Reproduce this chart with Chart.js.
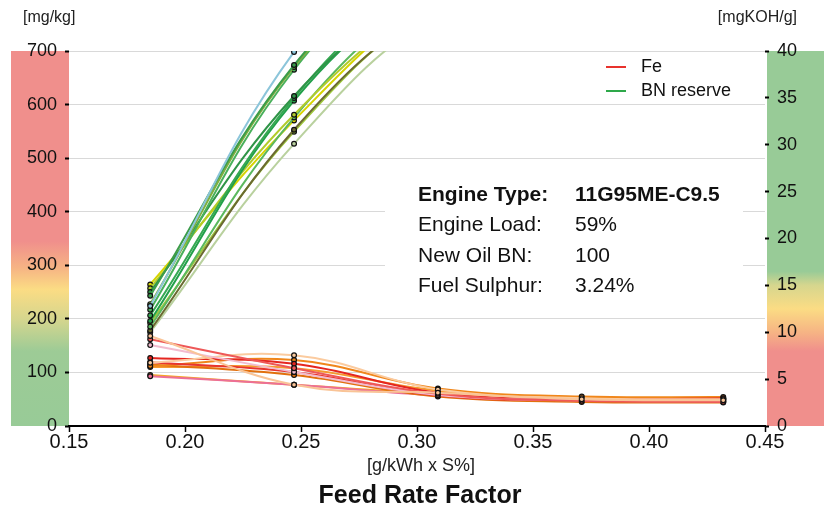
<!DOCTYPE html>
<html>
<head>
<meta charset="utf-8">
<script src="https://cdn.jsdelivr.net/npm/chart.js@4.4.1/dist/chart.umd.min.js"></script>
<style>
  html, body { margin: 0; padding: 0; background: #fff; }
  #wrap { width: 824px; height: 508px; }
</style>
</head>
<body>
<div id="wrap"><canvas id="chart" width="824" height="508"></canvas></div>
<script>
// feed rate factor [g/kWh x S%] of the five measurements
const feedRates = [0.185, 0.247, 0.309, 0.371, 0.432];

// Fe [mg/kg], one row per cylinder
const feColors = ["#f9c497", "#ee5858", "#f2bccf", "#fbcb9f", "#e52620", "#e8352f",
                  "#f0861a", "#e2700e", "#f59a30", "#ec6f97", "#f5a623"];
const feValues = [
  [168, 77, 62, 50, 48],
  [162, 108, 60, 47, 45],
  [151, 101, 58, 48, 46],
  [118, 132, 68, 52, 50],
  [127, 116, 62, 50, 50],
  [119, 101, 57, 49, 52],
  [112, 123, 70, 55, 54],
  [115, 95, 55, 45, 44],
  [110, 108, 66, 53, 52],
  [93, 77, 57, 46, 46],
  [95, 77, 60, 52, 50]
];

// BN reserve [mgKOH/g], one row per cylinder
const bnColors = ["#8cc5da", "#3b9c4a", "#7fae3e", "#49b05a", "#2f9447", "#35a852", "#22a04a",
                  "#b2cc2a", "#5bb85e", "#d6d400", "#6b6a30", "#9ec83c", "#b9d19e"];
const bnValues = [
  [12.8, 39.9, 55, 62, 65],
  [13.9, 38.5, 52, 60, 63],
  [13.0, 38.3, 51, 58, 62],
  [12.4, 38.0, 52, 59, 63],
  [14.3, 35.2, 48, 56, 60],
  [11.8, 35.0, 49, 57, 61],
  [11.2, 34.7, 48, 55, 59],
  [14.7, 33.2, 46, 53, 57],
  [10.6, 32.9, 47, 54, 58],
  [15.1, 32.6, 46, 52, 56],
  [10.2, 31.6, 45, 51, 55],
  [11.0, 31.4, 45, 50, 54],
  [10.0, 30.1, 44, 49, 52]
];

const legendNames = ["Fe", "BN reserve"];
const legendColors = ["#e8322d", "#2ea84a"];

const infoLabels = ["Engine Type:", "Engine Load:", "New Oil BN:", "Fuel Sulphur:"];
const infoValues = ["11G95ME-C9.5", "59%", "100", "3.24%"];

const FONT = "'Liberation Sans', Arial, Helvetica, sans-serif";

function toPoints(values) {
  return feedRates.map((x, i) => ({ x: x, y: values[i] }));
}

const datasets = [];
feValues.forEach((vals, i) => {
  datasets.push({
    label: "Fe",
    data: toPoints(vals),
    yAxisID: "y",
    borderColor: feColors[i],
    pointBackgroundColor: feColors[i],
    pointBorderColor: "#111"
  });
});
bnValues.forEach((vals, i) => {
  datasets.push({
    label: "BN reserve",
    data: toPoints(vals),
    yAxisID: "y1",
    borderColor: bnColors[i],
    pointBackgroundColor: bnColors[i],
    pointBorderColor: "#111"
  });
});

function vgrad(ctx, scale, stops) {
  const g = ctx.createLinearGradient(0, scale.getPixelForValue(scale.max), 0, scale.getPixelForValue(scale.min));
  const span = scale.max - scale.min;
  stops.forEach(s => g.addColorStop((scale.max - s[0]) / span, s[1]));
  return g;
}

const decor = {
  id: "decor",
  beforeDraw(chart) {
    const { ctx, chartArea: a, scales } = chart;
    ctx.save();
    ctx.fillStyle = "#fff";
    ctx.fillRect(0, 0, chart.width, chart.height);
    // Fe limit band (left) and BN limit band (right)
    ctx.fillStyle = vgrad(ctx, scales.y, [
      [700, "#f08f8c"], [345, "#f08f8c"], [295, "#f6b484"], [255, "#fbdc84"],
      [200, "#d6d68e"], [140, "#9dcb96"], [0, "#98cb97"]
    ]);
    ctx.fillRect(11, a.top, a.left - 11, a.bottom - a.top);
    ctx.fillStyle = vgrad(ctx, scales.y1, [
      [40, "#98cb97"], [16.5, "#98cb97"], [15, "#d6d68e"], [12.5, "#fbdc84"],
      [10, "#f6b484"], [8, "#f08f8c"], [0, "#f08f8c"]
    ]);
    ctx.fillRect(a.right + 2, a.top, chart.width - a.right - 2, a.bottom - a.top);
    ctx.restore();
  },
  beforeDatasetsDraw(chart) {
    const { ctx, chartArea: a } = chart;
    ctx.save();
    ctx.fillStyle = "#fff";
    ctx.fillRect(385, 165, a.right - 22 - 385, 140);
    ctx.restore();
  },
  afterDraw(chart) {
    const { ctx } = chart;
    ctx.save();
    ctx.fillStyle = "#222";
    ctx.textBaseline = "middle";
    ctx.font = "16px " + FONT;
    ctx.textAlign = "left";
    ctx.fillText("[mg/kg]", 23, 18);
    ctx.textAlign = "right";
    ctx.fillText("[mgKOH/g]", 797, 18);

    ctx.textAlign = "center";
    ctx.font = "18px " + FONT;
    ctx.fillText("[g/kWh x S%]", 421, 466);
    ctx.fillStyle = "#111";
    ctx.font = "bold 25px " + FONT;
    ctx.fillText("Feed Rate Factor", 420, 496);

    // legend
    ctx.textAlign = "left";
    ctx.font = "18px " + FONT;
    legendNames.forEach((name, i) => {
      const y = 67 + i * 24;
      ctx.strokeStyle = legendColors[i];
      ctx.lineWidth = 2;
      ctx.beginPath();
      ctx.moveTo(606, y);
      ctx.lineTo(626, y);
      ctx.stroke();
      ctx.fillStyle = "#111";
      ctx.fillText(name, 641, y);
    });

    // engine info
    infoLabels.forEach((label, i) => {
      const y = 195 + i * 30.5;
      ctx.font = (i === 0 ? "bold " : "") + "21px " + FONT;
      ctx.fillText(label, 418, y);
      ctx.fillText(infoValues[i], 575, y);
    });
    ctx.restore();
  }
};

new Chart(document.getElementById("chart"), {
  type: "line",
  data: { datasets: datasets },
  options: {
    responsive: false,
    animation: false,
    devicePixelRatio: 1,
    layout: { padding: { top: 51, left: 0, right: 0, bottom: 0 } },
    elements: {
      line: { borderWidth: 2, tension: 0.4, fill: false },
      point: { radius: 2.4, borderWidth: 1.2, hoverRadius: 3 }
    },
    plugins: {
      legend: { display: false },
      tooltip: { enabled: false }
    },
    scales: {
      x: {
        type: "linear",
        min: 0.15,
        max: 0.45,
        ticks: {
          stepSize: 0.05,
          padding: -2,
          color: "#111",
          font: { family: FONT, size: 20 },
          callback: v => v.toFixed(2)
        },
        grid: { drawOnChartArea: false, tickColor: "#000", tickLength: 6, tickWidth: 1.5 },
        border: { color: "#000", width: 2 },
        afterFit(scale) { scale.height = 82; }
      },
      y: {
        position: "left",
        min: 0,
        max: 700,
        ticks: { stepSize: 100, padding: 8, color: "#111", font: { family: FONT, size: 18 } },
        grid: { color: "#d9d9d9", lineWidth: 1, tickColor: "#000", tickLength: 4, tickWidth: 2 },
        border: { display: false },
        afterFit(scale) { scale.width = 69; }
      },
      y1: {
        position: "right",
        min: 0,
        max: 40,
        ticks: { stepSize: 5, padding: 8, color: "#111", font: { family: FONT, size: 18 } },
        grid: { drawOnChartArea: false, tickColor: "#000", tickLength: 4, tickWidth: 2 },
        border: { display: false },
        afterFit(scale) { scale.width = 59; }
      }
    }
  },
  plugins: [decor]
});
</script>
</body>
</html>
